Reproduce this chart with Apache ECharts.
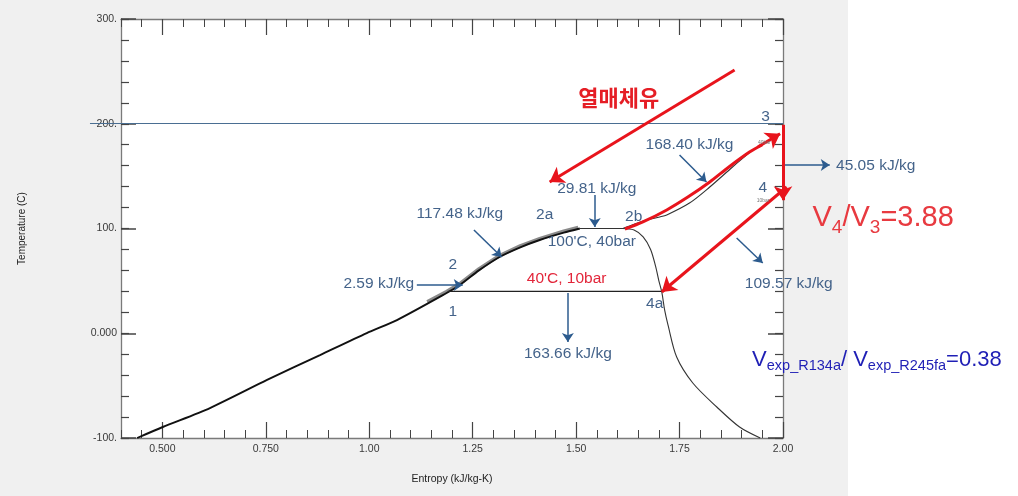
<!DOCTYPE html>
<html><head><meta charset="utf-8">
<script src="https://cdn.jsdelivr.net/npm/echarts@6/dist/echarts.min.js"></script>
<style>
html,body{margin:0;padding:0;background:#fff;}
#wrap{position:relative;width:1018px;height:496px;}
#bg{position:absolute;left:0;top:0;width:848px;height:496px;background:#f0f0f0;}
#chart{position:absolute;left:0;top:0;width:1018px;height:496px;}
</style>
</head><body><div id="wrap"><div id="bg"></div><div id="chart"></div></div>
<script>
// ---- axis ticks ----
const xMajorTicks = [0.5, 0.75, 1.0, 1.25, 1.5, 1.75, 2.0];
const xMajorText = ['0.500', '0.750', '1.00', '1.25', '1.50', '1.75', '2.00'];
const yMajorTicks = [-100, 0, 100, 200, 300];
const yMajorText = ['-100.', '0.000', '100.', '200.', '300.'];

// ---- curves (entropy s, temperature T) ----
const liquidS = [0.439, 0.501, 0.615, 0.753, 0.881, 0.994, 1.067, 1.187, 1.219, 1.265, 1.315, 1.365, 1.412, 1.47, 1.509];
const liquidT = [-100, -89.5, -71.4, -44.6, -20.8, 0.2, 12.6, 38.4, 46, 60, 72.8, 82, 89, 96, 100];
const bandS = [1.14, 1.187, 1.219, 1.265, 1.315, 1.365, 1.412, 1.47, 1.505];
const bandT = [30, 39.8, 47.4, 61.4, 74.2, 83.4, 90.4, 97.4, 101];
const domeS = [1.509, 1.613, 1.64, 1.662, 1.68, 1.692, 1.70, 1.707, 1.714, 1.722, 1.743, 1.782, 1.84, 1.895, 1.945];
const domeT = [100, 100, 98.5, 92, 80, 64, 50, 39.4, 22, 8, -22.7, -47.5, -70.4, -89.5, -100];
const superS = [1.613, 1.64, 1.67, 1.702, 1.719, 1.774, 1.823, 1.878, 1.927];
const superT = [100, 104, 108, 111, 112.9, 124.3, 139.6, 158.7, 175];
const isoLowS = [1.19, 1.707];
const isoLowT = [40, 40];
const hotLine = [[0.325, 200, 2.0, 200]];

// ---- arrows [s1, T1, s2, T2] ----
const blueArrows = [
  [1.115, 46.1, 1.226, 46.1],
  [1.253, 98.6, 1.320, 72.8],
  [1.545, 132, 1.545, 101.5],
  [1.480, 38.4, 1.480, -8.4],
  [1.750, 170.2, 1.815, 144.4],
  [2.0, 160.6, 2.113, 160.6],
  [1.888, 90.9, 1.951, 67.1]
];
const redArrows = [
  [1.883, 251.3, 1.436, 144.4],
  [2.0, 199, 2.0, 127],
  [2.009, 139.6, 1.707, 39.4],
  [1.94, 178, 1.993, 190.5]
];
const redCurveS = [1.618, 1.66, 1.719, 1.77, 1.823, 1.87, 1.919, 1.95];
const redCurveT = [99.5, 106, 117.7, 130, 144.4, 159, 173, 180];

// ---- text labels [s, T, text] ----
const valueLabels = [
  [1.023, 47.0, '2.59 kJ/kg'],
  [1.219, 113.8, '117.48 kJ/kg'],
  [1.550, 137.7, '29.81 kJ/kg'],
  [1.480, -19.8, '163.66 kJ/kg'],
  [1.774, 179.7, '168.40 kJ/kg'],
  [2.224, 159.7, '45.05 kJ/kg'],
  [2.014, 47.0, '109.57 kJ/kg']
];
const pointLabels = [
  [1.202, 20.3, '1'], [1.202, 65.2, '2'], [1.424, 112.9, '2a'], [1.639, 111, '2b'],
  [1.958, 206.4, '3'], [1.951, 138.7, '4'], [1.690, 27.9, '4a'], [1.538, 87.1, "100'C, 40bar"]
];
const redLabels = [[1.477, 51.8, "40'C, 10bar"]];
const fluidLabel = [[1.603, 224.6, '열매체유']];
const ratioLabel = [[2.242, 110.0, '{v|V}{s|4}{v|/V}{s|3}{v|=3.88}']];
const vexpLabel = [[2.227, -25.5, '{v|V}{s|exp_R134a}{v|/ V}{s|exp_R245fa}{v|=0.38}']];
const tinyLabels = [[1.955, 182, '40bar'], [1.952, 127, '10bar']];

const pairs = (S, T) => S.map((s, i) => [s, T[i]]);
const segs = arr => arr.map(a => ({ coords: [[a[0], a[1]], [a[2], a[3]]] }));

const chart = echarts.init(document.getElementById('chart'));
const gridRect = { left: 121, top: 19, width: 662, height: 419 };
const lab = { fontFamily: 'Liberation Sans Narrow, Arial Narrow, sans-serif', fontSize: 10.5, color: '#3a3a3a' };

function minorX(pos) {
  return { type: 'value', gridIndex: 0, position: pos, min: 0.4, max: 2.0, interval: 0.05,
    axisLine: { show: true, onZero: false, lineStyle: { color: '#7a7a7a', width: 1.3 } },
    axisTick: { show: true, inside: true, length: 8, lineStyle: { color: '#444', width: 1 } },
    axisLabel: { show: false }, splitLine: { show: false } };
}
function minorY(pos) {
  return { type: 'value', gridIndex: 0, position: pos, min: -100, max: 300, interval: 20,
    axisLine: { show: true, onZero: false, lineStyle: { color: '#7a7a7a', width: 1.3 } },
    axisTick: { show: true, inside: true, length: 8, lineStyle: { color: '#444', width: 1.2 } },
    axisLabel: { show: false }, splitLine: { show: false } };
}
function majorX(pos, labels) {
  return { type: 'value', gridIndex: 1, position: pos, min: 0.4, max: 2.0,
    axisLine: { show: false, onZero: false },
    axisTick: { show: true, inside: true, length: 16, customValues: xMajorTicks, lineStyle: { color: '#444', width: 1.2 } },
    axisLabel: labels ? Object.assign({ show: true, margin: 6, customValues: xMajorTicks,
      formatter: v => { const i = xMajorTicks.findIndex(t => Math.abs(t - v) < 1e-6); return i >= 0 ? xMajorText[i] : ''; } }, lab) : { show: false },
    splitLine: { show: false },
    name: labels ? 'Entropy (kJ/kg-K)' : '', nameLocation: 'middle', nameGap: 36,
    nameTextStyle: { fontFamily: 'Liberation Sans Narrow, Arial Narrow, sans-serif', fontSize: 10.5, color: '#222' } };
}
function majorY(pos, labels) {
  return { type: 'value', gridIndex: 1, position: pos, min: -100, max: 300, interval: 100,
    axisLine: { show: false, onZero: false },
    axisTick: { show: true, inside: true, length: 15, lineStyle: { color: '#444', width: 1.5 } },
    axisLabel: labels ? Object.assign({ show: true, margin: 4,
      formatter: v => { const i = yMajorTicks.indexOf(Math.round(v)); return i >= 0 ? yMajorText[i] : ''; } }, lab) : { show: false },
    splitLine: { show: false },
    name: labels ? 'Temperature (C)' : '', nameLocation: 'middle', nameGap: 94, nameRotate: 90,
    nameTextStyle: { fontFamily: 'Liberation Sans, Arial, sans-serif', fontSize: 10, color: '#222' } };
}

function lineS(data, color, width, z, extra) {
  return Object.assign({ type: 'line', xAxisIndex: 0, yAxisIndex: 0, data: data, showSymbol: false, symbol: 'none',
    clip: false, lineStyle: { color: color, width: width }, z: z, silent: true, animation: false }, extra || {});
}
function arrowS(arr, color, width, size, z, sym) {
  return { type: 'lines', coordinateSystem: 'cartesian2d', xAxisIndex: 0, yAxisIndex: 0, clip: false,
    symbol: sym || ['none', 'arrow'], symbolSize: size, data: segs(arr),
    lineStyle: { color: color, width: width, opacity: 1, curveness: 0 }, z: z, silent: true, animation: false };
}
function textS(arr, style, z) {
  return { type: 'scatter', xAxisIndex: 0, yAxisIndex: 0, clip: false, symbol: 'circle', symbolSize: 0,
    itemStyle: { color: 'rgba(0,0,0,0)', opacity: 1 }, data: arr, z: z, silent: true, animation: false,
    label: Object.assign({ show: true, opacity: 1, position: 'inside', align: 'center', verticalAlign: 'middle',
      formatter: p => p.data[2] }, style) };
}

const blueTxt = { fontFamily: 'Liberation Sans, Arial, sans-serif', fontSize: 15.5, color: '#44638a' };

chart.setOption({
  animation: false,
  grid: [
    Object.assign({ show: true, backgroundColor: '#ffffff', borderWidth: 0 }, gridRect),
    Object.assign({ show: false }, gridRect)
  ],
  xAxis: [minorX('bottom'), minorX('top'), majorX('bottom', true), majorX('top', false)],
  yAxis: [minorY('left'), minorY('right'), majorY('left', true), majorY('right', false)],
  series: [
    arrowS(hotLine, '#4a6e92', 1.2, 0, 3, ['none', 'none']),
    lineS(pairs(bandS, bandT), '#8a8a8a', 3.5, 4),
    lineS(pairs(liquidS, liquidT), '#111', 1.9, 5, { smooth: 0.25 }),
    lineS(pairs(domeS, domeT), '#333', 1.1, 5, { smooth: 0.3 }),
    lineS(pairs(superS, superT), '#333', 1.1, 5, { smooth: 0.3 }),
    lineS(pairs(isoLowS, isoLowT), '#222', 1.3, 5),
    arrowS(blueArrows, '#2c5b8e', 1.5, 9, 6),
    lineS(pairs(redCurveS, redCurveT), '#e8141c', 3, 8, { smooth: 0.3 }),
    arrowS(redArrows, '#e8141c', 3, 14, 8),
    textS(valueLabels, blueTxt, 9),
    textS(pointLabels, blueTxt, 9),
    textS(redLabels, { fontFamily: 'Liberation Sans, Arial, sans-serif', fontSize: 15.5, color: '#e2263a' }, 9),
    textS(fluidLabel, { fontFamily: 'Noto Sans CJK KR, sans-serif', fontSize: 22, fontWeight: 'bold', color: '#e51e25' }, 9),
    textS(tinyLabels, { fontFamily: 'Liberation Sans, sans-serif', fontSize: 5, color: '#777' }, 9),
    textS(ratioLabel, { rich: {
      v: { fontFamily: 'Liberation Sans, Arial, sans-serif', fontSize: 29, lineHeight: 30, color: '#e83a40', verticalAlign: 'top' },
      s: { fontFamily: 'Liberation Sans, Arial, sans-serif', fontSize: 19, lineHeight: 19, color: '#e83a40', verticalAlign: 'top', padding: [15, 0, 0, 0] }
    } }, 9),
    textS(vexpLabel, { rich: {
      v: { fontFamily: 'Liberation Sans, Arial, sans-serif', fontSize: 22, lineHeight: 22, color: '#1f1fb5', verticalAlign: 'top' },
      s: { fontFamily: 'Liberation Sans, Arial, sans-serif', fontSize: 14.5, lineHeight: 15, color: '#1f1fb5', verticalAlign: 'top', padding: [10, 0, 0, 0] }
    } }, 9)
  ]
});
</script></body></html>
